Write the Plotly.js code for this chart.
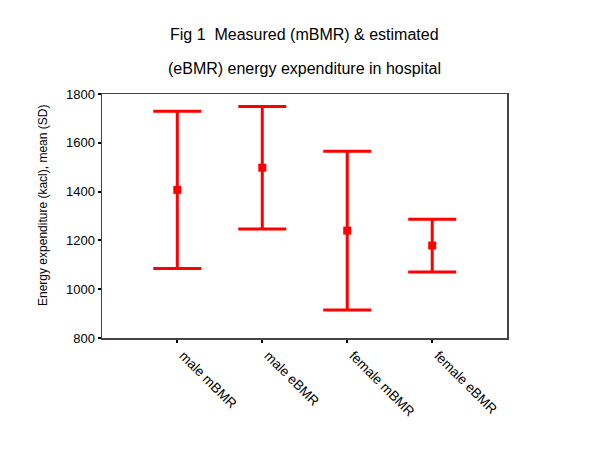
<!DOCTYPE html>
<html>
<head>
<meta charset="utf-8">
<script src="https://cdn.plot.ly/plotly-3.0.1.min.js"></script>
<style>html,body{margin:0;padding:0;background:#fff;}#chart{width:600px;height:463px;}</style>
</head>
<body>
<div id="chart"></div>
<script>
const categories = ["male mBMR", "male eBMR", "female mBMR", "female eBMR"];
const means = [1407, 1498, 1240, 1179];
const sds = [322, 251, 325, 108];
const titleLines = ["Fig 1  Measured (mBMR) &amp; estimated", "(eBMR) energy expenditure in hospital"];
const yTitle = "Energy expenditure (kacl), mean (SD)";
const yTicks = [800, 1000, 1200, 1400, 1600, 1800];

const FONT = "Liberation Sans, Arial, sans-serif";

const trace = {
  type: "scatter",
  mode: "markers",
  x: [0, 1, 2, 3],
  y: means,
  marker: {symbol: "square", size: 8, color: "#ff0000"},
  error_y: {type: "data", array: sds, symmetric: true, visible: true, color: "#ff0000", thickness: 3, width: 24},
  hoverinfo: "skip"
};

const layout = {
  width: 600, height: 463,
  margin: {l: 102, r: 93, t: 94, b: 125},
  paper_bgcolor: "#fff", plot_bgcolor: "#fff",
  showlegend: false,
  font: {family: FONT, color: "#000"},
  xaxis: {
    range: [-0.886, 3.88],
    tickmode: "array", tickvals: [0, 1, 2, 3], ticktext: categories,
    tickangle: 45, ticks: "outside", ticklen: 3, tickwidth: 2, tickcolor: "#000",
    tickfont: {family: FONT, size: 13.5, color: "#000"},
    ticklabelshift: 6,
    showgrid: false, zeroline: false,
    showline: true, mirror: true, linecolor: "#444", linewidth: 1.5
  },
  yaxis: {
    range: [800, 1800],
    tickmode: "array", tickvals: yTicks,
    ticks: "outside", ticklen: 3, tickwidth: 2, tickcolor: "#000",
    tickfont: {family: FONT, size: 13, color: "#000"},
    showgrid: false, zeroline: false,
    showline: true, mirror: true, linecolor: "#444", linewidth: 1.5
  },
  annotations: [
    {text: titleLines[0], xref: "paper", yref: "paper", x: 0.5, y: 1, yshift: 60, xanchor: "center", yanchor: "middle", showarrow: false, font: {family: FONT, size: 16, color: "#000"}},
    {text: titleLines[1], xref: "paper", yref: "paper", x: 0.5, y: 1, yshift: 26, xanchor: "center", yanchor: "middle", showarrow: false, font: {family: FONT, size: 16, color: "#000"}},
    {text: yTitle, xref: "paper", yref: "paper", x: 0, xshift: -59, y: 0.541, textangle: -90, xanchor: "center", yanchor: "middle", showarrow: false, font: {family: FONT, size: 12, color: "#000"}}
  ]
};

Plotly.newPlot("chart", [trace], layout, {displayModeBar: false, staticPlot: true});
</script>
</body>
</html>
